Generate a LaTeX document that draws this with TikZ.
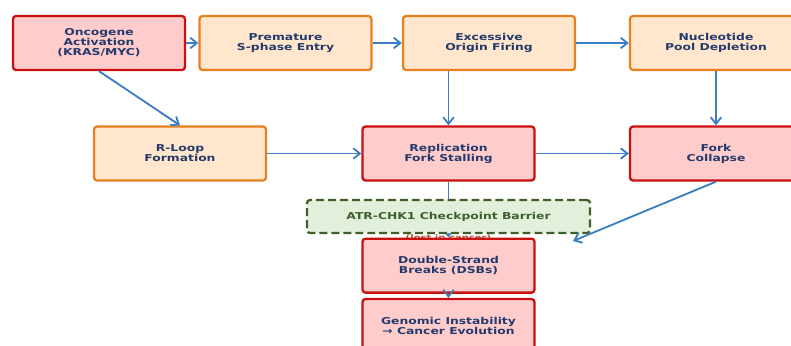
\documentclass[tikz,border=0pt]{standalone}
\usepackage{fontspec}
\newfontfamily\boxfont[FakeStretch=1.3]{DejaVu Sans Bold}
\usepackage{tikz}
\usetikzlibrary{arrows.meta, positioning}

\definecolor{redfill}{HTML}{FFCCCC}
\definecolor{redline}{HTML}{C81010}
\definecolor{orangefill}{HTML}{FFE6CC}
\definecolor{orangeline}{HTML}{E8801E}
\definecolor{greenfill}{HTML}{E2EFDA}
\definecolor{greenline}{HTML}{3F5F2A}
\definecolor{navytext}{HTML}{243A6B}
\definecolor{flowblue}{HTML}{3C7EC3}
\definecolor{lostred}{HTML}{B0553A}

\tikzset{
    stage/.style={rectangle, rounded corners=0.06cm, line width=1.3pt,
        minimum width=3.44cm, minimum height=1.08cm, align=center, text=navytext,
        font=\boxfont\fontsize{5.4pt}{5.7pt}\selectfont},
    hit/.style={stage, draw=redline, fill=redfill},
    push/.style={stage, draw=orangeline, fill=orangefill},
    barrier/.style={stage, draw=greenline, fill=greenfill, text=greenline, dashed,
        dash pattern=on 4.5pt off 2.3pt, minimum width=5.66cm, minimum height=0.66cm},
    flow/.style={flowblue, line width=1.05pt, -{Straight Barb[length=3.8pt,width=6pt]}},
}

\begin{document}
\begin{tikzpicture}[x=0.02cm, y=-0.02cm]
    \useasboundingbox (0,0) rectangle (791,345);

    % Top row: oncogenic push
    \node[hit]  (onco)   at (99,43)    {Oncogene\\Activation\\(KRAS/MYC)};
    \node[push] (sphase) at (285.5,43) {Premature\\S-phase Entry};
    \node[push] (origin) at (489,43)   {Excessive\\Origin Firing};
    \node[push] (pool)   at (716,43)   {Nucleotide\\Pool Depletion};

    % Middle row: fork trouble
    \node[push] (rloop)    at (180,153.5)   {R-Loop\\Formation};
    \node[hit]  (stall)    at (448.5,153.5) {Replication\\Fork Stalling};
    \node[hit]  (collapse) at (716,153.5)   {Fork\\Collapse};

    \coordinate (dsbtop) at (448.5,237.5);
    \coordinate (gap) at (573,241);

    \draw[flow] (onco) -- (sphase);
    \draw[flow] (sphase) -- (origin);
    \draw[flow] (origin) -- (pool);
    \draw[flow] (onco.south) -- (rloop.north);
    \draw[flow] (stall.north |- origin.south) -- (stall.north);
    \draw[flow] (pool) -- (collapse);
    \draw[flow] (rloop) -- (stall);
    \draw[flow] (stall) -- (collapse);
    \draw[flow] (stall.south) -- (dsbtop);

    % Checkpoint (drawn over the stalling arrow)
    \node[barrier] (atr) at (448.5,216.5) {ATR-CHK1 Checkpoint Barrier};
    \node[text=lostred, font=\boxfont\fontsize{4.4pt}{5pt}\selectfont] (lost) at (448.5,238.5) {(lost in cancer)};

    % Bottom column: damage
    \node[hit, anchor=north] (dsb) at (dsbtop) {Double-Strand\\Breaks (DSBs)};
    \node[hit] (genome) at (448.5,326) {Genomic Instability\\→ Cancer Evolution};

    \draw[flow] (collapse.south) -- (gap);
    \draw[flow] (dsb) -- (genome);

\end{tikzpicture}
\end{document}
